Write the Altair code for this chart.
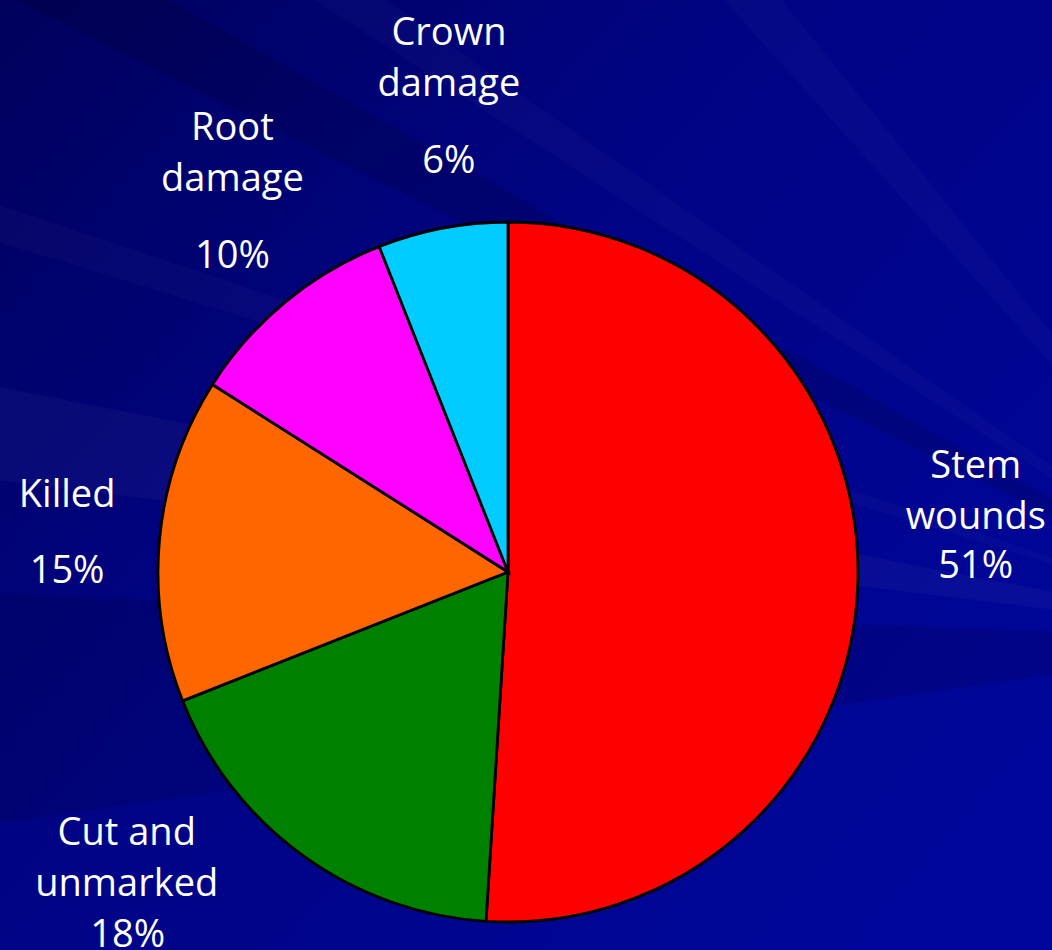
import altair as alt
import pandas as pd

# ---- data ----
categories = ["Stem wounds", "Cut and unmarked", "Killed", "Root damage", "Crown damage"]
name_lines = ["Stem\nwounds", "Cut and\nunmarked", "Killed", "Root\ndamage", "Crown\ndamage"]
percent_labels = ["51%", "18%", "15%", "10%", "6%"]
values = [51, 18, 15, 10, 6]

# ---- styling ----
slice_colors = ["#FF0000", "#008000", "#FF6600", "#FF00FF", "#00CCFF"]
name_offsets = [(-2, -109), (-105, -107), (27, -21), (24, -70), (29, -65)]
pct_offsets = [(-2, -9), (-104, -5), (27, 55), (24, 58), (29, 63)]

# decorative background rays (degrees, opacity, colour)
ray_start = [262, 277, 287, 296.5, 303, 318]
ray_end = [272, 281, 288.5, 299.5, 305, 321]
ray_opacity = [0.10, 0.035, 0.025, 0.12, 0.025, 0.025]
ray_color = ["black", "white", "white", "black", "white", "white"]

W, H = 1052, 950
CX, CY = 508, 572
R = 350
LABEL_R = 470
FONT = "Open Sans"
FS = 38

df = pd.DataFrame({
    "category": categories,
    "value": values,
    "order": list(range(len(categories))),
    "name": name_lines,
    "pct": percent_labels,
})

bg = alt.Chart(pd.DataFrame({"a": [0]})).mark_rect(
    color=alt.Gradient(
        gradient="linear",
        stops=[
            alt.GradientStop(color="#00005c", offset=0),
            alt.GradientStop(color="#000484", offset=0.45),
            alt.GradientStop(color="#00069a", offset=1),
        ],
        x1=0, y1=0, x2=1, y2=0.8,
    )
).encode(x=alt.value(0), x2=alt.value(W), y=alt.value(0), y2=alt.value(H))

rays_df = pd.DataFrame({"s": ray_start, "e": ray_end, "op": ray_opacity, "c": ray_color})
rays = alt.Chart(rays_df).transform_calculate(
    s_r="datum.s * PI / 180", e_r="datum.e * PI / 180"
).mark_arc(outerRadius=1800).encode(
    theta=alt.Theta("s_r:Q", scale=None),
    theta2="e_r:Q",
    color=alt.Color("c:N", scale=None),
    opacity=alt.Opacity("op:Q", scale=None),
    x=alt.value(1300), y=alt.value(640),
)

pie = alt.Chart(df).mark_arc(outerRadius=R, stroke="black", strokeWidth=2.8).encode(
    theta=alt.Theta("value:Q", stack=True),
    order=alt.Order("order:Q"),
    color=alt.Color("category:N", scale=alt.Scale(domain=categories, range=slice_colors), legend=None),
    x=alt.value(CX), y=alt.value(CY),
)

lab_base = alt.Chart(df).transform_window(
    cum="sum(value)", sort=[alt.SortField("order")], frame=[None, 0]
).transform_calculate(mid="datum.cum - datum.value / 2")

layers = [bg, rays, pie]
for i, c in enumerate(categories):
    for field, (dx, dy) in (("name", name_offsets[i]), ("pct", pct_offsets[i])):
        layers.append(
            lab_base.transform_filter(alt.datum.category == c).mark_text(
                radius=LABEL_R, dx=dx, dy=dy, align="center", baseline="alphabetic",
                font=FONT, fontSize=FS, color="white", lineBreak="\n", lineHeight=51,
            ).encode(
                theta=alt.Theta("mid:Q", scale=alt.Scale(domain=[0, 100], range=[0, 6.283185307179586])),
                text=alt.Text(f"{field}:N"),
                x=alt.value(CX), y=alt.value(CY),
            )
        )

chart = alt.layer(*layers).resolve_scale(theta="independent", color="independent").properties(
    width=W, height=H, autosize="none", padding=0, background="#000484"
).configure_view(stroke=None)

chart.save("out.html", embed_options={"renderer": "svg", "actions": False})
